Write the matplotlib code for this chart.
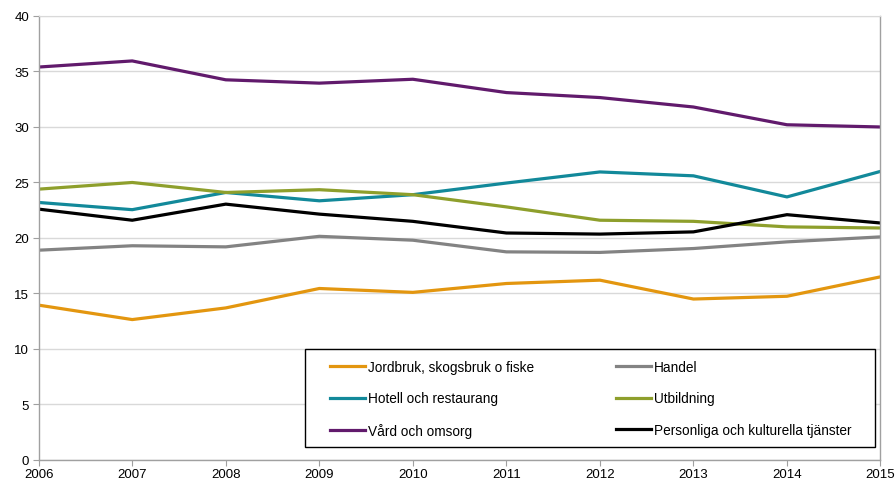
import matplotlib.pyplot as plt
from matplotlib.patches import Rectangle

plt.rcParams['font.family'] = ['Liberation Sans', 'DejaVu Sans']

years = [2006, 2007, 2008, 2009, 2010, 2011, 2012, 2013, 2014, 2015]

jordbruk = [13.95, 12.65, 13.7, 15.45, 15.1, 15.9, 16.2, 14.5, 14.75, 16.5]
handel = [18.9, 19.3, 19.2, 20.15, 19.8, 18.75, 18.7, 19.05, 19.65, 20.1]
hotell = [23.2, 22.55, 24.1, 23.35, 23.9, 24.95, 25.95, 25.6, 23.7, 26.0]
utbildning = [24.4, 25.0, 24.1, 24.35, 23.9, 22.8, 21.6, 21.5, 21.0, 20.9]
vard = [35.4, 35.95, 34.25, 33.95, 34.3, 33.1, 32.65, 31.8, 30.2, 30.0]
personliga = [22.6, 21.6, 23.05, 22.15, 21.5, 20.45, 20.35, 20.55, 22.1, 21.35]

series = [
    ("Jordbruk, skogsbruk o fiske", jordbruk, "#E3960F"),
    ("Handel", handel, "#838383"),
    ("Hotell och restaurang", hotell, "#12899A"),
    ("Utbildning", utbildning, "#8E9F2C"),
    ("Vård och omsorg", vard, "#611A6C"),
    ("Personliga och kulturella tjänster", personliga, "#000000"),
]

fig = plt.figure(figsize=(8.96, 4.81), dpi=100)
ax = fig.add_axes([0.0432, 0.0416, 0.9395, 0.9231])

lines = {}
for label, vals, color in series:
    ln, = ax.plot(years, vals, color=color, linewidth=2.3, label=label,
                  solid_joinstyle='round')
    lines[label] = ln

ax.set_xlim(2006, 2015)
ax.set_ylim(0, 40)
ax.set_xticks(years)
ax.set_yticks(range(0, 41, 5))
ax.yaxis.grid(True, color="#D9D9D9", linewidth=1.0)
ax.set_axisbelow(True)

for side in ["left", "bottom", "right"]:
    ax.spines[side].set_color("#A0A0A0")
    ax.spines[side].set_linewidth(1.0)
ax.spines["top"].set_color("#D9D9D9")

ax.tick_params(axis='both', length=4, color="#A0A0A0", labelsize=9.5,
               labelcolor="#000000")
ax.tick_params(axis='x', pad=2)
ax.tick_params(axis='y', pad=3)

# legend box drawn separately so the entries can be indented inside it
box = Rectangle((0.3163, 0.0293), 0.677, 0.2207, transform=ax.transAxes,
                facecolor="white", edgecolor="black", linewidth=1.0, zorder=4)
ax.add_patch(box)

# legend is filled row by row in the original
order = ["Jordbruk, skogsbruk o fiske", "Hotell och restaurang", "Vård och omsorg",
         "Handel", "Utbildning", "Personliga och kulturella tjänster"]
leg = ax.legend([lines[k] for k in order], order,
                loc="upper left", bbox_to_anchor=(0.346, 0.226),
                ncol=2, frameon=False, fontsize=9.8, handlelength=2.6,
                handletextpad=0.2, borderaxespad=0, labelspacing=1.3,
                borderpad=0, columnspacing=6.0)
leg.set_zorder(5)
for h in leg.get_lines():
    h.set_linewidth(2.3)

fig.savefig("out.png", dpi=100)
